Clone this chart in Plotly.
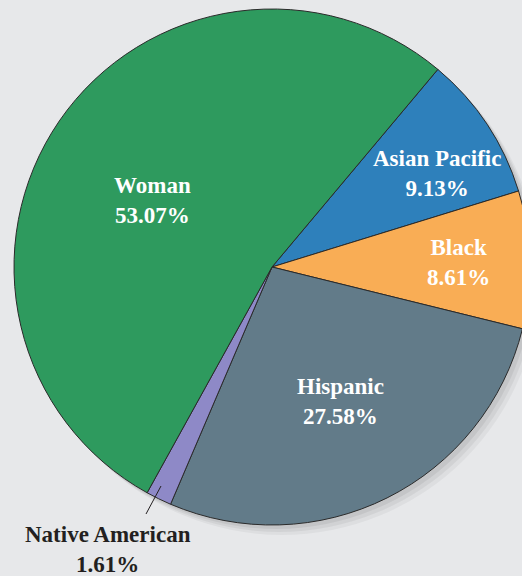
import plotly.graph_objects as go

labels = ["Asian Pacific", "Black", "Hispanic", "Native American", "Woman"]
values = [9.13, 8.61, 27.58, 1.61, 53.07]
colors = ["#2e80bb", "#f9ad55", "#627b89", "#8e89c7", "#2e9a5e"]
text_colors = ["white", "white", "white", "#231f20", "white"]
# label centres in pixels (layout only)
label_pos = [(437, 174), (458, 262), (340, 401), (108, 549), (152, 201)]

W, H = 540, 576
cx, cy, r = 272, 267, 258
fig = go.Figure()
fig.add_trace(go.Pie(
    labels=labels, values=values, sort=False, direction="clockwise",
    rotation=40, textinfo="none", hoverinfo="label+percent",
    marker=dict(colors=colors, line=dict(color="#2a2a2a", width=1)),
    domain=dict(x=[(cx - r) / W, (cx + r) / W],
                y=[1 - (cy + r) / H, 1 - (cy - r) / H]),
    showlegend=False,
))

for lab, v, (px, py), tc in zip(labels, values, label_pos, text_colors):
    fig.add_annotation(
        x=px / W, y=1 - py / H, xref="paper", yref="paper",
        xanchor="center", yanchor="middle",
        text=f"<b>{lab}<br>{v:.2f}%</b>", showarrow=False,
        font=dict(family="Liberation Serif", size=23, color=tc),
        align="center",
    )

# leader line for the small slice
fig.add_shape(type="line", xref="paper", yref="paper",
              x0=146 / W, y0=1 - 514 / H, x1=161 / W, y1=1 - 486 / H,
              line=dict(color="#231f20", width=1))

# soft shadow behind pie
for off, a in [(10, 0.04), (7, 0.05), (4, 0.06)]:
    fig.add_shape(type="circle", xref="paper", yref="paper", layer="below",
                  x0=(cx - r + off) / W, x1=(cx + r + off) / W,
                  y0=1 - (cy + r + off) / H, y1=1 - (cy - r + off) / H,
                  line=dict(width=0), fillcolor=f"rgba(0,0,0,{a})")

fig.update_layout(
    width=W, height=H, margin=dict(l=0, r=0, t=0, b=0),
    paper_bgcolor="#e7e8ea", plot_bgcolor="#e7e8ea",
)
fig.write_html("out.html", config={"displayModeBar": False},
               post_script="document.body.style.margin='0';"
                           "document.body.style.overflow='hidden';")
